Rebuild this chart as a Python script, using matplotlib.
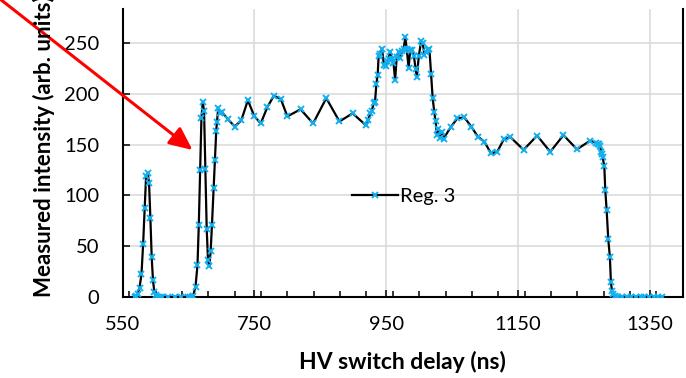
import matplotlib
matplotlib.use('Agg')
import matplotlib.pyplot as plt
from matplotlib.ticker import MultipleLocator

# HV switch delay (ns) and measured intensity for region 3
delay = [568, 570.5, 573, 575.5, 578.5, 581, 583.5, 585.5, 588, 590, 592, 594, 596, 598, 600,
         602, 604, 607, 609, 619, 629, 639, 649, 652, 655,
         657, 660.5, 663.5, 665.5, 667.5, 669.5, 671.5, 673.5, 675.5, 677.5, 679.5, 681.5, 683.5,
         685.5, 688, 690, 692, 693, 695, 698, 701,
         710, 720, 730, 740, 749.5, 759.5, 769.5, 779.5, 790, 800, 820, 839, 859, 879, 899,
         919.5, 922, 926, 928, 931, 933, 935, 937, 938.5, 941, 943.5, 946.5, 949, 951.5, 953.5,
         956, 958.5, 961, 963.5, 966, 969, 971.5, 974, 976.5, 979, 981, 984, 986.5, 989, 992,
         994.5, 996.5, 999.5, 1003, 1005.5, 1008, 1010.5, 1013, 1015.5, 1018, 1020.5, 1023,
         1025, 1027, 1029, 1032, 1034, 1037,
         1048.5, 1058, 1068.5, 1079, 1089, 1099, 1109, 1118.5, 1128.5, 1138.5, 1158.5, 1179,
         1199, 1219, 1239.5, 1259.5, 1268, 1271, 1273, 1275, 1276, 1277.5, 1278.5, 1281,
         1282.5, 1284.5, 1287, 1289.5, 1291, 1292.5, 1294.5, 1297.5, 1300,
         1302, 1308, 1315, 1322, 1329, 1336, 1342, 1349, 1356, 1362, 1369]
intensity = [0, 1, 3, 9, 22, 52, 88, 119, 122, 112, 78, 39, 16, 5, 2,
             0, 0, 0, 0, 0, 0, 0, 0, 0, 0,
             1, 10, 31, 71, 125, 176, 192, 183, 126, 67, 36, 30, 45,
             71, 107, 135, 164, 172, 186, 181, 182,
             175, 168, 174, 194, 178.5, 171, 187, 198.5, 195, 178, 185, 171, 196, 173, 181,
             169, 174, 181, 183, 191, 192, 210, 219, 238, 240, 245, 229, 228, 233, 235,
             242, 235, 231, 214, 237, 242, 236, 243, 245, 256, 245, 226, 244, 244, 238,
             225, 217, 238, 252, 250, 239, 242, 244, 245, 220, 196, 182,
             173, 160, 166, 157, 163, 156,
             168, 176, 177, 168, 158, 153, 141.5, 143, 155.5, 157.5, 145, 159,
             143, 159.5, 145.5, 154, 152, 151, 150.5, 148.5, 143, 140.5, 137.5, 129,
             105, 86, 57, 39, 15, 6, 2.5, 1, 0,
             0, 0, 0, 0, 0, 0, 0, 0, 0, 0, 0]

x_ticks = [550, 750, 950, 1150, 1350]
y_ticks = [0, 50, 100, 150, 200, 250]

plt.rcParams.update({'font.family': 'Lato', 'font.size': 14.5})

fig = plt.figure(figsize=(6.86, 3.78), dpi=100)
ax = fig.add_axes([122.7 / 686, 1 - 296.7 / 378, 560 / 686, 287.7 / 378])

ax.plot(delay, intensity, color='black', linewidth=1.6, marker='x', markersize=4.3,
        markeredgewidth=1.4, markeredgecolor='#12B0F0', label='Reg. 3', zorder=3)

ax.set_xlim(550, 1400)
ax.set_ylim(0, 284)
ax.set_xticks(x_ticks)
ax.set_yticks(y_ticks)
ax.xaxis.set_minor_locator(MultipleLocator(40))

# gridlines behind the data
ax.grid(True, which='major', color='#D9D9D9', linewidth=1.1, zorder=0)
ax.set_axisbelow(True)

for side in ['left', 'bottom', 'right']:
    ax.spines[side].set_linewidth(1.5)
    ax.spines[side].set_color('black')
ax.spines['top'].set_visible(False)

ax.tick_params(axis='x', which='major', direction='in', length=5.3, width=1.1, pad=14)
ax.tick_params(axis='x', which='minor', direction='in', length=4.1, width=1.1)
ax.tick_params(axis='y', which='major', direction='in', length=5, width=1.1, pad=17)
ax.tick_params(axis='y', which='minor', left=False)

ax.set_xlabel('HV switch delay (ns)', fontsize=16.5, fontweight='bold')
ax.xaxis.set_label_coords(0.5, -0.19)

# y label runs off the top of the figure, as in the original
fig.text(44 / 686, 1 - 297 / 378, 'Measured intensity (arb. units)', rotation=90,
         ha='center', va='bottom', fontsize=16, fontweight='bold')

ax.legend(loc='center left', bbox_to_anchor=(352 / 686, 1 - 196.7 / 378),
          bbox_transform=fig.transFigure, frameon=False, borderpad=0,
          borderaxespad=0, handlelength=2.3, handletextpad=0.1)

# red arrow pointing at the second peak
ax.annotate('', xy=(192.5, 378 - 150), xycoords='figure pixels',
            xytext=(0, 378 + 1), textcoords='figure pixels',
            arrowprops=dict(arrowstyle='-|>,head_length=0.7,head_width=0.32',
                            color='red', lw=2.2, mutation_scale=20,
                            shrinkA=0, shrinkB=0),
            annotation_clip=False)

fig.savefig('out.png', dpi=100)
